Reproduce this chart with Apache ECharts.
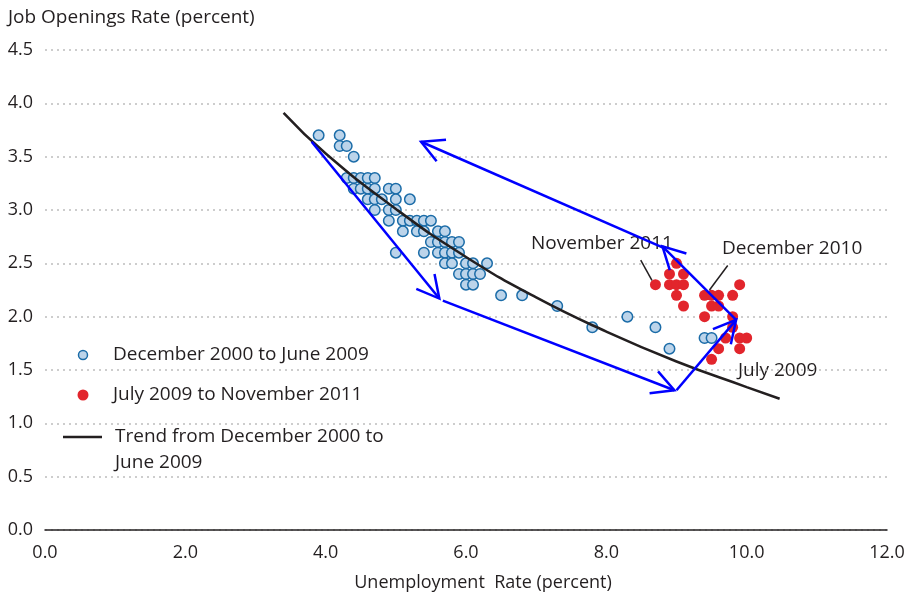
<!DOCTYPE html>
<html>
<head>
<meta charset="utf-8">
<script src="https://cdn.jsdelivr.net/npm/echarts@6/dist/echarts.min.js"></script>
<style>
html,body{margin:0;padding:0;background:#fff;}
#chart{width:909px;height:599px;}
</style>
</head>
<body>
<div id="chart"></div>
<script>
// Unemployment rate (x) and job openings rate (y), December 2000 to June 2009
const blueUnemp = [3.9,4.2, 4.2,4.3, 4.4, 4.3,4.4,4.5,4.6,4.7, 4.4,4.5,4.6,4.7,4.9,5.0, 4.6,4.7,4.8,5.0,5.2, 4.7,4.9,5.0,
  4.9,5.1,5.2,5.3,5.4,5.5, 5.1,5.3,5.4,5.6,5.7, 5.5,5.6,5.7,5.8,5.9, 5.0,5.4,5.6,5.7,5.8,5.9, 5.7,5.8,6.0,6.1,6.3,
  5.9,6.0,6.1,6.2, 6.0,6.1, 6.5,6.8, 7.3, 8.3, 7.8,8.7, 9.4,9.5, 8.9];
const blueOpen = [3.7,3.7, 3.6,3.6, 3.5, 3.3,3.3,3.3,3.3,3.3, 3.2,3.2,3.2,3.2,3.2,3.2, 3.1,3.1,3.1,3.1,3.1, 3.0,3.0,3.0,
  2.9,2.9,2.9,2.9,2.9,2.9, 2.8,2.8,2.8,2.8,2.8, 2.7,2.7,2.7,2.7,2.7, 2.6,2.6,2.6,2.6,2.6,2.6, 2.5,2.5,2.5,2.5,2.5,
  2.4,2.4,2.4,2.4, 2.3,2.3, 2.2,2.2, 2.1, 2.0, 1.9,1.9, 1.8,1.8, 1.7];
// July 2009 to November 2011
const redUnemp = [9.0, 8.9,9.1, 8.7,8.9,9.0,9.1, 9.0, 9.1, 9.4,9.5,9.6,9.8, 9.9, 9.5,9.6, 9.4,9.8, 9.8, 9.7,9.9,10.0, 9.6,9.9, 9.5];
const redOpen  = [2.5, 2.4,2.4, 2.3,2.3,2.3,2.3, 2.2, 2.1, 2.2,2.2,2.2,2.2, 2.3, 2.1,2.1, 2.0,2.0, 1.9, 1.8,1.8,1.8, 1.7,1.7, 1.6];
// Trend from December 2000 to June 2009
const trendUnemp = [3.4, 4.0, 5.0, 6.0, 7.0, 8.0, 9.0, 10.0, 10.47];
const trendOpen  = [3.91, 3.53, 3.01, 2.56, 2.18, 1.86, 1.58, 1.34, 1.23];
// Arrows: [fromX, fromY, toX, toY]
const arrows = [
  [3.80, 3.64, 5.62, 2.17],
  [5.67, 2.15, 8.97, 1.31],
  [9.00, 1.31, 9.85, 1.97],
  [9.85, 1.97, 8.80, 2.66],
  [8.80, 2.65, 5.36, 3.64]
];
// Leader lines for labels
const leaders = [
  [8.49, 2.53, 8.65, 2.34],
  [9.73, 2.48, 9.47, 2.25]
];
const legendNames = ['December 2000 to June 2009', 'July 2009 to November 2011', 'Trend from December 2000 to\nJune 2009'];

const FONT = 'Open Sans';
const TXT = '#231f20';
const FS = 19;
const zip = (a, b) => a.map((v, i) => [v, b[i]]);

const chart = echarts.init(document.getElementById('chart'), null, {renderer: 'canvas'});
chart.setOption({
  animation: false,
  backgroundColor: '#fff',
  textStyle: {fontFamily: FONT, color: TXT},
  title: {
    text: 'Job Openings Rate (percent)', left: 3, top: 3,
    textStyle: {fontFamily: FONT, fontSize: FS, fontWeight: 'normal', color: TXT}
  },
  grid: {left: 45, right: 22, top: 50, bottom: 69, containLabel: false},
  xAxis: {
    type: 'value', min: 0, max: 12, interval: 2,
    name: 'Unemployment  Rate (percent)', nameLocation: 'middle', nameGap: 44,
    nameTextStyle: {fontFamily: FONT, fontSize: 18, color: TXT, padding: [0, 0, 0, 34]},
    axisLine: {show: true, onZero: false, lineStyle: {color: TXT, width: 1.5}},
    axisTick: {show: false},
    splitLine: {show: false},
    axisLabel: {margin: 14, fontFamily: FONT, fontSize: 18, color: TXT, formatter: v => v.toFixed(1)}
  },
  yAxis: {
    type: 'value', min: 0, max: 4.5, interval: 0.5,
    axisLine: {show: false}, axisTick: {show: false},
    splitLine: {show: true, lineStyle: {color: '#bdbdbd', width: 1.5, type: [2, 4]}},
    axisLabel: {margin: 12, fontFamily: FONT, fontSize: 18, color: TXT, formatter: v => v.toFixed(1)}
  },
  series: [
    {
      name: legendNames[0], type: 'scatter', data: zip(blueUnemp, blueOpen),
      symbolSize: 10.5, z: 2,
      itemStyle: {color: '#bcd4ea', borderColor: '#1b6ca8', borderWidth: 1.5, opacity: 1}
    },
    {
      name: legendNames[1], type: 'scatter', data: zip(redUnemp, redOpen),
      symbolSize: 11, z: 2,
      itemStyle: {color: '#e2252c', opacity: 1}
    },
    {
      name: legendNames[2], type: 'line', data: zip(trendUnemp, trendOpen),
      smooth: true, showSymbol: false, symbol: 'none', z: 3,
      lineStyle: {color: TXT, width: 2.5}
    },
    {
      name: 'leaders', type: 'custom', z: 4, silent: true,
      data: leaders, encode: {x: [0, 2], y: [1, 3]},
      renderItem: (params, api) => {
        const p1 = api.coord([api.value(0), api.value(1)]);
        const p2 = api.coord([api.value(2), api.value(3)]);
        return {type: 'line', shape: {x1: p1[0], y1: p1[1], x2: p2[0], y2: p2[1]},
          style: {stroke: TXT, lineWidth: 1.5}};
      }
    },
    {
      name: 'arrows', type: 'custom', z: 5, silent: true,
      data: arrows, encode: {x: [0, 2], y: [1, 3]},
      renderItem: (params, api) => {
        const p1 = api.coord([api.value(0), api.value(1)]);
        const p2 = api.coord([api.value(2), api.value(3)]);
        const ang = Math.atan2(p1[1] - p2[1], p1[0] - p2[0]);
        const L = 25, a = 28 * Math.PI / 180;
        const h1 = [p2[0] + L * Math.cos(ang + a), p2[1] + L * Math.sin(ang + a)];
        const h2 = [p2[0] + L * Math.cos(ang - a), p2[1] + L * Math.sin(ang - a)];
        return {type: 'group', children: [
          {type: 'line', shape: {x1: p1[0], y1: p1[1], x2: p2[0], y2: p2[1]},
            style: {stroke: '#0000ff', lineWidth: 2.5}},
          {type: 'polyline', shape: {points: [h1, p2, h2]},
            style: {stroke: '#0000ff', lineWidth: 2.5, fill: null}}
        ]};
      }
    }
  ],
  graphic: [
    {type: 'circle', shape: {cx: 83, cy: 355, r: 4.5}, style: {fill: '#bcd4ea', stroke: '#1b6ca8', lineWidth: 1.5}},
    {type: 'text', x: 113, y: 355, style: {text: legendNames[0], fontFamily: FONT, fontSize: FS, fill: TXT, verticalAlign: 'middle'}},
    {type: 'circle', shape: {cx: 83, cy: 395, r: 5.5}, style: {fill: '#e2252c'}},
    {type: 'text', x: 113, y: 395, style: {text: legendNames[1], fontFamily: FONT, fontSize: FS, fill: TXT, verticalAlign: 'middle'}},
    {type: 'line', shape: {x1: 63, y1: 437, x2: 102, y2: 437}, style: {stroke: TXT, lineWidth: 2.5}},
    {type: 'text', x: 115, y: 424, style: {text: legendNames[2], fontFamily: FONT, fontSize: FS, lineHeight: 26, fill: TXT, verticalAlign: 'top'}},
    {type: 'text', x: 531, y: 244, style: {text: 'November 2011', fontFamily: FONT, fontSize: FS, fill: TXT, verticalAlign: 'middle'}},
    {type: 'text', x: 722, y: 249, style: {text: 'December 2010', fontFamily: FONT, fontSize: FS, fill: TXT, verticalAlign: 'middle'}},
    {type: 'text', x: 738, y: 371, style: {text: 'July 2009', fontFamily: FONT, fontSize: FS, fill: TXT, verticalAlign: 'middle'}}
  ]
});
</script>
</body>
</html>
